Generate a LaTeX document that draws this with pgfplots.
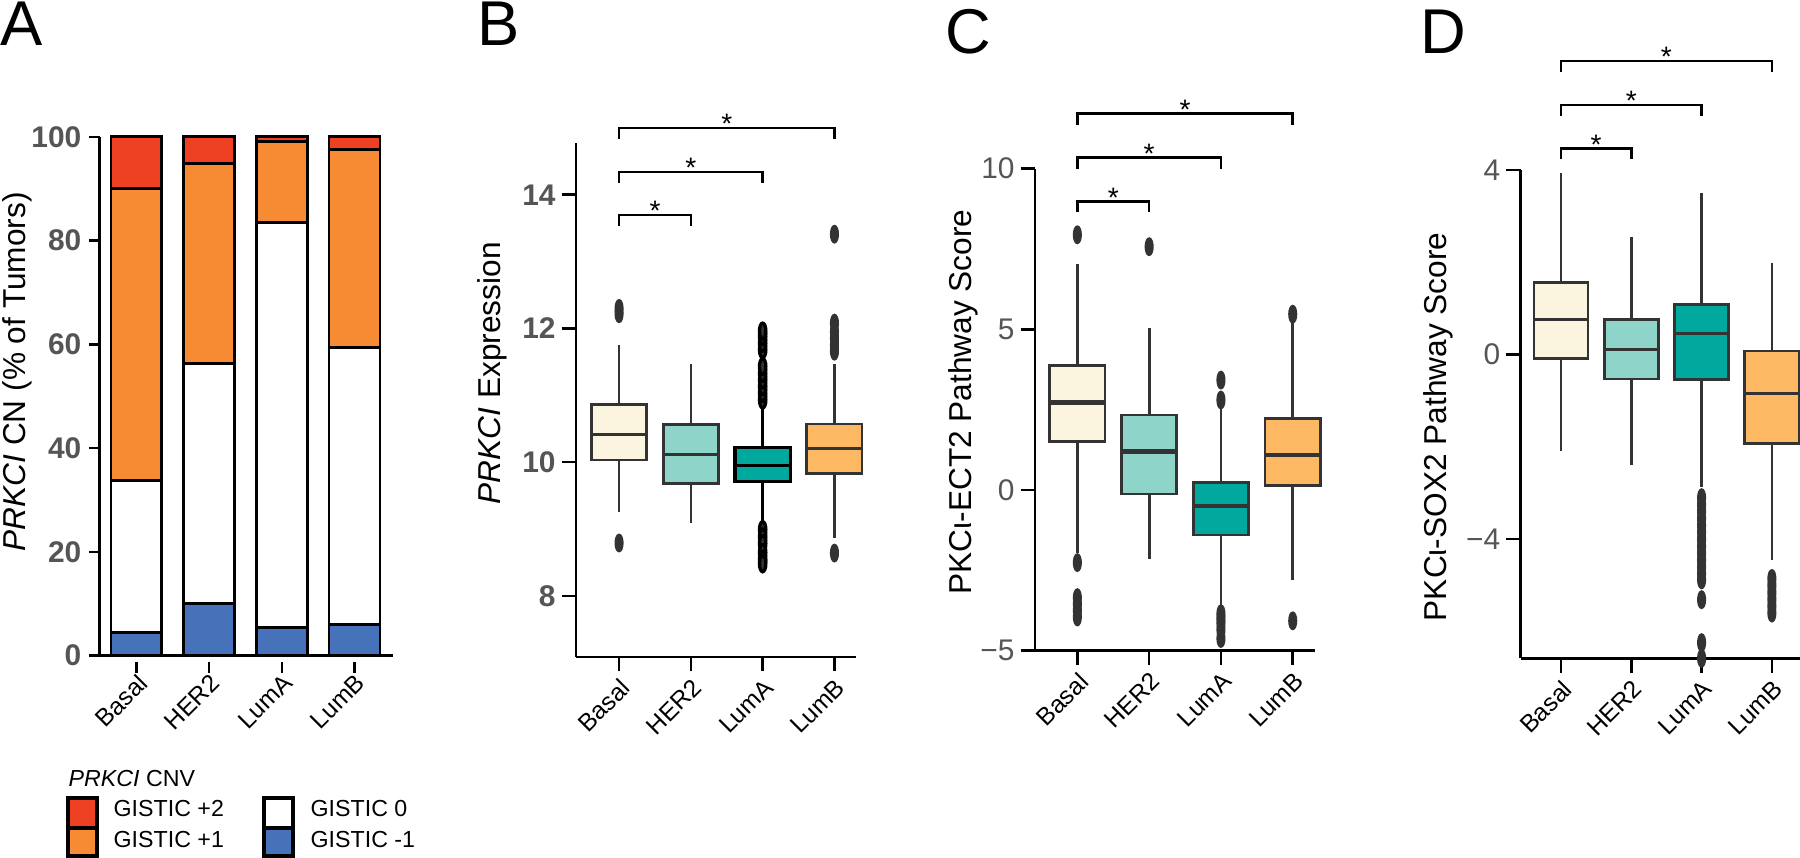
\documentclass[border=0pt]{standalone}
\usepackage{fontspec}
\setmainfont{Liberation Sans}
\usepackage{pgfplots}
\pgfplotsset{compat=1.18}
\usepgfplotslibrary{statistics}

\definecolor{cRed}{RGB}{238,64,35}
\definecolor{cOrange}{RGB}{246,139,51}
\definecolor{cBlue}{RGB}{70,114,185}
\definecolor{cBasal}{RGB}{251,244,222}
\definecolor{cHER}{RGB}{143,212,200}
\definecolor{cLumA}{RGB}{0,168,157}
\definecolor{cLumB}{RGB}{253,184,99}
\definecolor{dgray}{RGB}{51,51,51}
\definecolor{tgray}{RGB}{85,85,85}

\pgfplotsset{
  panel/.style={
    scale only axis, axis lines*=left, axis line style={line width=0.25mm,-},
    tick style={line width=0.25mm, black}, major tick length=1.45mm, tick align=outside,
    xtick={0,1,2,3}, xticklabels={Basal,HER2,LumA,LumB},
    xticklabel style={rotate=45, anchor=north east, font=\fontsize{7}{8}\selectfont, inner sep=1pt},
    yticklabel style={font=\fontsize{8.5}{10}\selectfont, text=tgray, inner sep=1.5pt},
    ylabel style={font=\fontsize{9}{11}\selectfont, anchor=center},
    clip=false,
  },
  boxst/.style={boxplot/draw direction=y, draw=dgray, line width=0.27mm, solid, mark=*, mark size=0.8mm,
    mark options={xscale=0.4, fill=dgray, draw=none},
    boxplot/whisker extend=0, boxplot/box extend=0.77,
    boxplot/every median/.style={line width=0.3mm}},
}
\newcommand{\brk}[4]{% x2, y, drop, unused
  \draw[line width=0.25mm, black] (axis cs:0,#2-#3) -- (axis cs:0,#2) -- (axis cs:#1,#2) -- (axis cs:#1,#2-#3);
  \node[anchor=base, inner sep=0, font=\fontsize{8}{9}\selectfont, yshift=-0.58mm] at (axis cs:#1/2,#2) {*};
}

\begin{document}
\begin{tikzpicture}
\useasboundingbox (0,0) rectangle (180mm,-85.8mm);

% Panel letters
\node[anchor=base west, inner sep=0, font=\fontsize{18}{20}\selectfont] at (0mm,-4.6mm) {A};
\node[anchor=base west, inner sep=0, font=\fontsize{18}{20}\selectfont] at (47.7mm,-4.6mm) {B};
\node[anchor=base west, inner sep=0, font=\fontsize{18}{20}\selectfont] at (94.5mm,-5.4mm) {C};
\node[anchor=base west, inner sep=0, font=\fontsize{18}{20}\selectfont] at (142.0mm,-5.4mm) {D};

% ---------------- Panel A ----------------
\begin{axis}[panel, at={(10mm,-65.57mm)}, anchor=south west,
  width=29.3mm, height=51.89mm,
  axis line style={line width=0.3mm}, major tick length=1.1mm,
  xtick style={yshift=-0.6mm},
  ybar stacked, bar width=0.70,
  xmin=-0.5, xmax=3.53, ymin=0, ymax=100,
  ytick={0,20,40,60,80,100}, yticklabels={0,20,40,60,80,100},
  yticklabel style={font=\fontsize{8.5}{10}\selectfont\bfseries, inner sep=2pt},
  ylabel={\textit{PRKCI} CN (\% of Tumors)},
  ylabel style={at={(axis description cs:-0.283,0.547)}},
]
\addplot[fill=cBlue, draw=black, line width=0.27mm] coordinates {(0,4.5) (1,10.1) (2,5.4) (3,6.0)};
\addplot[fill=white, draw=black, line width=0.27mm] coordinates {(0,29.2) (1,46.2) (2,78.1) (3,53.4)};
\addplot[fill=cOrange, draw=black, line width=0.27mm] coordinates {(0,56.3) (1,38.6) (2,15.6) (3,38.1)};
\addplot[fill=cRed, draw=black, line width=0.27mm] coordinates {(0,10.0) (1,5.1) (2,0.9) (3,2.5)};
\draw[line width=0.3mm] (axis cs:-0.5,0) -- ++(-1.1mm,0);
\end{axis}

% Legend A
\node[anchor=base west, inner sep=0, font=\fontsize{6.6}{8}\selectfont] at (6.8mm,-78.7mm) {\textit{PRKCI} CNV};
\filldraw[fill=cRed, draw=black, line width=0.33mm] (6.8mm,-79.8mm) rectangle (9.7mm,-82.8mm);
\filldraw[fill=cOrange, draw=black, line width=0.33mm] (6.8mm,-82.8mm) rectangle (9.7mm,-85.6mm);
\filldraw[fill=white, draw=black, line width=0.33mm] (26.4mm,-79.8mm) rectangle (29.3mm,-82.8mm);
\filldraw[fill=cBlue, draw=black, line width=0.33mm] (26.4mm,-82.8mm) rectangle (29.3mm,-85.6mm);
\node[anchor=base west, inner sep=0, font=\fontsize{6.6}{8}\selectfont] at (11.3mm,-81.7mm) {GISTIC +2};
\node[anchor=base west, inner sep=0, font=\fontsize{6.6}{8}\selectfont] at (11.3mm,-84.8mm) {GISTIC +1};
\node[anchor=base west, inner sep=0, font=\fontsize{6.6}{8}\selectfont] at (31.0mm,-81.7mm) {GISTIC 0};
\node[anchor=base west, inner sep=0, font=\fontsize{6.6}{8}\selectfont] at (31.0mm,-84.8mm) {GISTIC -1};

% ---------------- Panel B ----------------
\begin{axis}[panel, at={(57.6mm,-65.7mm)}, anchor=south west,
  width=28.0mm, height=51.4mm,
  xmin=-0.6, xmax=3.3, ymin=7.085, ymax=14.774,
  ytick={8,10,12,14}, yticklabels={8,10,12,14},
  yticklabel style={font=\fontsize{8.5}{10}\selectfont\bfseries},
  ylabel={\textit{PRKCI} Expression},
  ylabel style={at={(axis description cs:-0.298,0.552)}},
]
\addplot[boxst, fill=cBasal, boxplot prepared={draw position=0, lower whisker=9.25, lower quartile=10.03, median=10.42, upper quartile=10.86, upper whisker=11.75}]
  table[row sep=\\, y index=0] {d\\ 12.22\\ 12.30\\ 8.79\\};
\addplot[boxst, fill=cHER, boxplot prepared={draw position=1, lower whisker=9.09, lower quartile=9.68, median=10.11, upper quartile=10.56, upper whisker=11.47}]
  coordinates {};
\addplot[boxst, fill=cLumA, draw=black, line width=0.33mm, boxplot prepared={draw position=2, lower whisker=9.06, lower quartile=9.71, median=9.95, upper quartile=10.22, upper whisker=10.86}]
  table[row sep=\\, y index=0] {d\\ 10.93\\ 11.03\\ 11.13\\ 11.23\\ 11.33\\ 11.43\\ 11.68\\ 11.78\\ 11.88\\ 11.96\\ 8.99\\ 8.88\\ 8.78\\ 8.65\\ 8.55\\ 8.48\\};
\addplot[boxst, fill=cLumB, boxplot prepared={draw position=3, lower whisker=8.86, lower quartile=9.83, median=10.21, upper quartile=10.57, upper whisker=11.47}]
  table[row sep=\\, y index=0] {d\\ 11.66\\ 11.75\\ 11.85\\ 11.95\\ 12.08\\ 13.41\\ 8.64\\};
\brk{1}{13.70}{0.165}{}
\brk{2}{14.34}{0.165}{}
\brk{3}{15.00}{0.165}{}
\end{axis}

% ---------------- Panel C ----------------
\begin{axis}[panel, at={(103.5mm,-65.07mm)}, anchor=south west,
  width=28.0mm, height=48.21mm,
  xmin=-0.59, xmax=3.31, ymin=-5, ymax=10,
  ytick={-5,0,5,10}, yticklabels={−5,0,5,10},
  ylabel={PKCι-ECT2 Pathway Score},
  ylabel style={at={(axis description cs:-0.256,0.516)}},
]
\addplot[boxst, boxplot/every median/.style={line width=0.45mm}, fill=cBasal, boxplot prepared={draw position=0, lower whisker=-1.97, lower quartile=1.50, median=2.73, upper quartile=3.87, upper whisker=7.02}]
  table[row sep=\\, y index=0] {d\\ 7.94\\ -2.26\\ -3.35\\ -3.55\\ -3.75\\ -3.95\\};
\addplot[boxst, boxplot/every median/.style={line width=0.45mm}, fill=cHER, boxplot prepared={draw position=1, lower whisker=-2.15, lower quartile=-0.12, median=1.19, upper quartile=2.33, upper whisker=5.05}]
  table[row sep=\\, y index=0] {d\\ 7.57\\};
\addplot[boxst, boxplot/every median/.style={line width=0.45mm}, fill=cLumA, boxplot prepared={draw position=2, lower whisker=-3.7, lower quartile=-1.40, median=-0.50, upper quartile=0.23, upper whisker=2.6}]
  table[row sep=\\, y index=0] {d\\ 2.80\\ 3.42\\ -3.85\\ -4.0\\ -4.15\\ -4.35\\ -4.62\\};
\addplot[boxst, boxplot/every median/.style={line width=0.45mm}, fill=cLumB, boxplot prepared={draw position=3, lower whisker=-2.80, lower quartile=0.13, median=1.09, upper quartile=2.23, upper whisker=5.2}]
  table[row sep=\\, y index=0] {d\\ 5.47\\ -4.07\\};
\brk{1}{8.98}{0.34}{}
\brk{2}{10.34}{0.34}{}
\brk{3}{11.71}{0.34}{}
\end{axis}

% ---------------- Panel D ----------------
\begin{axis}[panel, at={(152.07mm,-65.83mm)}, anchor=south west,
  width=27.93mm, height=48.83mm,
  xmin=-0.574, xmax=3.40, ymin=-6.58, ymax=4,
  ytick={-4,0,4}, yticklabels={−4,0,4},
  ylabel={PKCι-SOX2 Pathway Score},
  ylabel style={at={(axis description cs:-0.296,0.474)}},
]
\addplot[boxst, fill=cBasal, boxplot prepared={draw position=0, lower whisker=-2.08, lower quartile=-0.09, median=0.75, upper quartile=1.56, upper whisker=3.94}]
  coordinates {};
\addplot[boxst, fill=cHER, boxplot prepared={draw position=1, lower whisker=-2.40, lower quartile=-0.53, median=0.10, upper quartile=0.76, upper whisker=2.55}]
  coordinates {};
\addplot[boxst, fill=cLumA, boxplot prepared={draw position=2, lower whisker=-2.87, lower quartile=-0.54, median=0.45, upper quartile=1.08, upper whisker=3.51}]
  table[row sep=\\, y index=0] {d\\ -3.10\\ -3.25\\ -3.40\\ -3.55\\ -3.70\\ -3.85\\ -4.00\\ -4.15\\ -4.30\\ -4.45\\ -4.60\\ -4.75\\ -4.88\\ -5.31\\ -6.24\\ -6.58\\};
\addplot[boxst, fill=cLumB, boxplot prepared={draw position=3, lower whisker=-4.46, lower quartile=-1.92, median=-0.85, upper quartile=0.08, upper whisker=1.99}]
  table[row sep=\\, y index=0] {d\\ -4.85\\ -5.00\\ -5.15\\ -5.30\\ -5.45\\ -5.60\\};
\brk{1}{4.47}{0.24}{}
\brk{2}{5.41}{0.24}{}
\brk{3}{6.36}{0.24}{}
\end{axis}
\end{tikzpicture}
\end{document}
